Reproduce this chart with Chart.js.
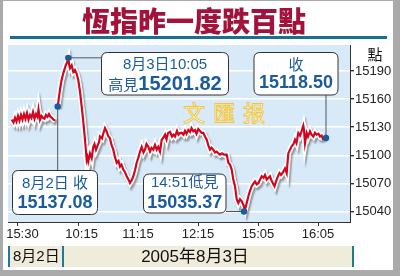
<!DOCTYPE html>
<html>
<head>
<meta charset="utf-8">
<script src="https://cdn.jsdelivr.net/npm/chart.js@4.4.0/dist/chart.umd.min.js"></script>
<style>
html, body { margin: 0; padding: 0; background: #fff; }
canvas { display: block; }
</style>
</head>
<body>
<canvas id="hsiChart" width="400" height="276"></canvas>
<script>
// x = 圖上時間位置(分鐘), 8月2日 15:30 = 0, 午休壓縮
var tickPos = [0, 61, 121, 181, 241, 301];
var tickLabels = ['15:30', '10:15', '11:15', '12:15', '15:05', '16:05'];
var yTicks = [15040, 15070, 15100, 15130, 15160, 15190];

// 8月2日 尾市
var day2X = [-5.3, -3.5, -2, -0.5, 1, 2.5, 4, 5.5, 7, 8.5, 10, 11.5, 13, 14.5, 16, 17.5, 19, 20.5, 21.5, 23, 24.5, 26, 27.5, 29, 30.5, 32, 33.5, 35, 36.5, 38.3];
var day2Y = [15138, 15135, 15140, 15136, 15142, 15137, 15143, 15138, 15144, 15139, 15145, 15138, 15143, 15140, 15146, 15139, 15144, 15141, 15149, 15138, 15142, 15140, 15139, 15143, 15141, 15144, 15141, 15140, 15138, 15137];

// 8月3日
var day3X = [40.7, 43, 44.5, 46.3, 48.7, 50, 51.3, 52.3, 53, 54.7, 56.3, 58, 59.7, 61.3, 63, 64.7, 66.3, 68, 69.7, 70.5, 71.3, 73, 74.7, 76.3, 77.5, 79, 80.5, 82, 83, 85, 86.5, 88, 89.7, 91, 93, 94.5, 96.3, 98, 99.7, 101.5, 103, 104.5, 106.3, 108, 109.7, 111.5, 113, 114.5, 116.3, 118, 119.7, 121.5, 123, 124.7, 126.5, 128, 129.5, 131.3, 133, 134.5, 136.3, 138, 139.7, 141.3, 143, 144.7, 146.5, 148, 149.5, 151, 153, 155, 156.5, 158, 160, 161.5, 163, 164.7, 166.5, 168, 169.5, 171.3, 173, 174.5, 176.3, 178, 179.5, 181.3, 183, 184.5, 186.3, 188, 189.7, 191.5, 193, 194.5, 196.3, 198, 199.7, 201.5, 203, 205, 207, 209.7, 211.3, 213, 214.7, 216.3, 218, 219.7, 221.3, 223, 224.7, 226.3, 227.3, 228, 229, 231.3, 233, 234.7, 236.5, 238, 239.7, 241.5, 243, 244.7, 246.5, 248, 249.7, 251.5, 253, 254.5, 256, 257.5, 259, 260.7, 262.5, 264, 266, 268, 269.7, 271.3, 273, 274.7, 276.5, 278, 279.5, 281.3, 283, 284.7, 286.3, 287, 288, 289.7, 291, 293, 294.5, 296.3, 298, 299.7, 301.5, 303, 304.7, 306.3];
var day3Y = [15152, 15170, 15180, 15187.5, 15196, 15199, 15203, 15196, 15193, 15196, 15189, 15191, 15187, 15180, 15168, 15152, 15136, 15116.6, 15095, 15098, 15093.5, 15102, 15097, 15109, 15112, 15106, 15110, 15114, 15120, 15118, 15124, 15129, 15125.5, 15121, 15118, 15111, 15106, 15098, 15092, 15094, 15088, 15090, 15084.7, 15082, 15077.6, 15074, 15070.5, 15073, 15077.6, 15084, 15092, 15098, 15104, 15109, 15103, 15106, 15112, 15109, 15104, 15108, 15106, 15111, 15106, 15109, 15104, 15116.6, 15119, 15122, 15117, 15123.7, 15125, 15120, 15122, 15120, 15126, 15122, 15123.7, 15124, 15122, 15126, 15123, 15127, 15125, 15129, 15125.5, 15127, 15123, 15128, 15126, 15124, 15124, 15120, 15116.6, 15110, 15106, 15108, 15106, 15103, 15104, 15102, 15100.6, 15102, 15100.6, 15100.6, 15092, 15090, 15084.7, 15074, 15067, 15053, 15049, 15053, 15051, 15047.4, 15044, 15042, 15046, 15056, 15062, 15067, 15070, 15072, 15069, 15070.5, 15074, 15077.6, 15076, 15079, 15074, 15076, 15077.6, 15073, 15070, 15067, 15072, 15077, 15081, 15079, 15082, 15086, 15081, 15102, 15106, 15109.6, 15112, 15116.6, 15113, 15123.7, 15121, 15126, 15131.5, 15127, 15113, 15123.7, 15120, 15125.5, 15122, 15120, 15124, 15122, 15123, 15120, 15121, 15116.6];

// 標記點: 8月2日收, 高見, 低見, 收
var markX = [40.7, 51.3, 227, 309];
var markY = [15152, 15204, 15040, 15118.5];

var blue = '#1a5b9b';
var cjk = '"Noto Sans CJK TC", "Noto Sans CJK SC", sans-serif';
var mix = '"Liberation Sans", "Noto Sans CJK TC", sans-serif';
var num = '"Liberation Sans", Arial, sans-serif';

var linePoints = [];
for (var i = 0; i < day2X.length; i++) linePoints.push({x: day2X[i], y: day2Y[i]});
linePoints.push({x: 39.5, y: null});
for (var j = 0; j < day3X.length; j++) linePoints.push({x: day3X[j], y: day3Y[j]});

var markPoints = markX.map(function(x, k) { return {x: x, y: markY[k]}; });

function roundBox(ctx, x, y, w, h, r) {
    ctx.beginPath();
    ctx.moveTo(x + r, y);
    ctx.lineTo(x + w - r, y);
    ctx.quadraticCurveTo(x + w, y, x + w, y + r);
    ctx.lineTo(x + w, y + h - r);
    ctx.quadraticCurveTo(x + w, y + h, x + w - r, y + h);
    ctx.lineTo(x + r, y + h);
    ctx.quadraticCurveTo(x, y + h, x, y + h - r);
    ctx.lineTo(x, y + r);
    ctx.quadraticCurveTo(x, y, x + r, y);
    ctx.closePath();
    ctx.fillStyle = '#fff';
    ctx.fill();
    ctx.strokeStyle = '#333';
    ctx.lineWidth = 1;
    ctx.stroke();
}

function txt(ctx, s, x, y, font, color, align) {
    ctx.font = font;
    ctx.fillStyle = color;
    ctx.textAlign = align || 'center';
    ctx.textBaseline = 'middle';
    ctx.fillText(s, x, y);
}

var decor = {
    id: 'decor',
    beforeDraw: function(chart) {
        var ctx = chart.ctx, a = chart.chartArea;
        ctx.save();
        // 外框
        ctx.fillStyle = '#aaaaaa';
        ctx.fillRect(0, 0, 400, 276);
        ctx.fillStyle = '#ffffff';
        ctx.fillRect(3, 1, 390, 269);
        // 標題
        txt(ctx, '恆指昨一度跌百點', 194, 21, '900 28px ' + cjk, '#a3123a');
        ctx.fillStyle = '#17708f';
        ctx.fillRect(10, 36, 377, 3);
        // 繪圖區底色
        ctx.fillStyle = '#d8eaf7';
        ctx.fillRect(a.left, a.top, a.right - a.left, a.bottom - a.top);
        // 底部日期條
        ctx.fillStyle = '#efecdc';
        ctx.fillRect(8, 246, 346, 21);
        ctx.fillStyle = '#1f7a9a';
        ctx.fillRect(8, 246, 2, 21);
        ctx.fillRect(62, 246, 2, 21);
        ctx.fillRect(352, 246, 2, 21);
        txt(ctx, '8月2日', 13, 257, '15px ' + mix, '#111', 'left');
        txt(ctx, '2005年8月3日', 195, 257, '17px ' + mix, '#111');
        txt(ctx, '點', 375, 54, '15px ' + cjk, '#111');
        ctx.restore();
    },
    beforeDatasetsDraw: function(chart) {
        var ctx = chart.ctx, xs = chart.scales.x, ys = chart.scales.y;
        ctx.save();
        // 水印
        ctx.font = '22px ' + cjk;
        ctx.textAlign = 'center';
        ctx.textBaseline = 'middle';
        ctx.lineWidth = 1;
        ctx.strokeStyle = '#f0c640';
        ctx.fillStyle = '#fffef4';
        ['文', '匯', '报'].forEach(function(c, k) {
            ctx.fillText(c, 194 + k * 30, 113);
            ctx.strokeText(c, 194 + k * 30, 113);
        });
        // 連接線
        var p = markPoints.map(function(m) { return [xs.getPixelForValue(m.x), ys.getPixelForValue(m.y)]; });
        ctx.strokeStyle = '#555';
        ctx.lineWidth = 1;
        ctx.beginPath();
        ctx.moveTo(p[0][0], p[0][1]); ctx.lineTo(p[0][0], 171);
        ctx.moveTo(p[1][0], p[1][1]); ctx.lineTo(102, p[1][1]);
        ctx.moveTo(p[2][0], p[2][1]); ctx.lineTo(226, p[2][1]);
        ctx.moveTo(p[3][0], p[3][1]); ctx.lineTo(p[3][0], 95);
        ctx.stroke();
        ctx.restore();
    },
    beforeDatasetDraw: function(chart, args) {
        if (chart.data.datasets[args.index].shadow) {
            var ctx = chart.ctx;
            ctx.save();
            ctx.shadowColor = 'rgba(90,90,90,0.55)';
            ctx.shadowOffsetX = 1.5;
            ctx.shadowOffsetY = 2.5;
            ctx.shadowBlur = 1.5;
        }
    },
    afterDatasetDraw: function(chart, args) {
        if (chart.data.datasets[args.index].shadow) chart.ctx.restore();
    },
    afterDraw: function(chart) {
        var ctx = chart.ctx;
        ctx.save();
        roundBox(ctx, 12.5, 170.5, 85, 44, 6);
        txt(ctx, '8月2日 收', 55, 183.5, '15px ' + mix, blue);
        txt(ctx, '15137.08', 55, 203.5, 'bold 18px ' + num, blue);

        roundBox(ctx, 101.5, 52.5, 127, 42.5, 6);
        txt(ctx, '8月3日10:05', 165, 65, '15px ' + mix, blue);
        ctx.font = '15px ' + cjk;
        var w1 = ctx.measureText('高見').width;
        ctx.font = 'bold 20px ' + num;
        var w2 = ctx.measureText('15201.82').width;
        var sx = 165 - (w1 + w2) / 2;
        txt(ctx, '高見', sx, 84, '15px ' + cjk, blue, 'left');
        txt(ctx, '15201.82', sx + w1, 84, 'bold 20px ' + num, blue, 'left');

        roundBox(ctx, 254, 52.5, 84, 42.5, 6);
        txt(ctx, '收', 296, 64, '15px ' + cjk, blue);
        txt(ctx, '15118.50', 296, 83.5, 'bold 18px ' + num, blue);

        roundBox(ctx, 143.5, 174, 82.5, 39, 6);
        txt(ctx, '14:51低見', 184.7, 183, '15px ' + mix, blue);
        txt(ctx, '15035.37', 184.7, 203.5, 'bold 18px ' + num, blue);
        ctx.restore();
    }
};

// 頭兩個時間標籤在原圖中略向右偏
var labelPad = ['   ', '  ', '', '', '', ''];

var hsi = document.getElementById('hsiChart').getContext('2d');
var hsi_chart = new Chart(hsi, {
    type: 'line',
    data: {
        datasets: [
            {
                data: markPoints,
                showLine: false,
                pointRadius: 3.2,
                pointBackgroundColor: blue,
                pointBorderWidth: 0,
                order: 0
            },
            {
                data: linePoints,
                borderColor: '#d3061f',
                borderWidth: 2.2,
                pointRadius: 0,
                tension: 0,
                spanGaps: false,
                order: 1
            },
            {
                data: linePoints,
                borderColor: '#ffffff',
                borderWidth: 5.5,
                pointRadius: 0,
                tension: 0,
                spanGaps: false,
                shadow: true,
                order: 2
            }
        ]
    },
    options: {
        responsive: false,
        animation: false,
        devicePixelRatio: 1,
        layout: { padding: { left: 8, top: 45, right: 8, bottom: 34 } },
        plugins: { legend: { display: false }, tooltip: { enabled: false } },
        scales: {
            x: {
                type: 'linear',
                min: -9,
                max: 333,
                afterBuildTicks: function(scale) {
                    scale.ticks = tickPos.map(function(v) { return {value: v}; });
                },
                afterFit: function(scale) {
                    scale.height = 20;
                    scale.paddingLeft = 0;
                    scale.paddingRight = 0;
                },
                grid: { drawOnChartArea: false, tickLength: 4, tickColor: '#333' },
                border: { color: '#333', width: 1 },
                ticks: {
                    autoSkip: false,
                    maxRotation: 0,
                    padding: 1,
                    color: '#222',
                    font: { family: num, size: 13 },
                    callback: function(v, i) { return labelPad[i] + tickLabels[i]; }
                }
            },
            y: {
                position: 'right',
                min: 15028.8,
                max: 15217.7,
                afterBuildTicks: function(scale) {
                    scale.ticks = yTicks.map(function(v) { return {value: v}; });
                },
                afterFit: function(scale) {
                    scale.width = 42;
                    scale.paddingTop = 0;
                    scale.paddingBottom = 0;
                },
                grid: { color: '#ffffff', lineWidth: 1.4, tickLength: 4, tickColor: '#333' },
                border: { color: '#333', width: 1 },
                ticks: {
                    padding: 1,
                    color: '#222',
                    font: { family: num, size: 13 },
                    callback: function(v) { return String(v); }
                }
            }
        }
    },
    plugins: [decor]
});
</script>
</body>
</html>
